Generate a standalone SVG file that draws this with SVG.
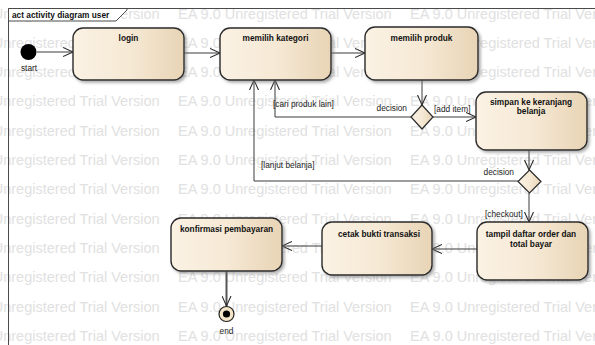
<svg xmlns="http://www.w3.org/2000/svg" width="595" height="345" viewBox="0 0 595 345">
<style>
.wm{font-family:"Liberation Sans",Arial,sans-serif;font-size:14.5px;fill:#e1e1e1}
.node{fill:url(#ng);stroke:#2b2b2b;stroke-width:1.4;filter:url(#sh)}
.lbl{font-family:"Liberation Sans",Arial,sans-serif;font-size:8.3px;font-weight:bold;fill:#111;text-anchor:middle}
.sm{font-family:"Liberation Sans",Arial,sans-serif;font-size:8.3px;fill:#222}
.con{fill:none;stroke:#3a3a3a;stroke-width:1;marker-end:url(#ah)}
.dia{fill:url(#ng);stroke:#2b2b2b;stroke-width:1.2}
</style>
<defs>
<linearGradient id="ng" x1="0" y1="0" x2="1" y2="0">
<stop offset="0" stop-color="#fbf2e4"/>
<stop offset="0.5" stop-color="#f6e9d5"/>
<stop offset="1" stop-color="#e8d4b5"/>
</linearGradient>
<filter id="sh" x="-10%" y="-10%" width="130%" height="140%">
<feDropShadow dx="2" dy="2" stdDeviation="1.4" flood-color="#777" flood-opacity="0.6"/>
</filter>
<marker id="ah" markerUnits="userSpaceOnUse" markerWidth="12" markerHeight="10" refX="10" refY="5" orient="auto">
<path d="M0,0.5 L10,5 L0,9.5" fill="none" stroke="#2b2b2b" stroke-width="1.1"/>
</marker>
</defs>
<rect width="595" height="345" fill="#ffffff"/>
<g id="watermark">
<text class="wm" y="18.5"><tspan x="-54">EA 9.0 Unregistered Trial Version</tspan><tspan x="178">EA 9.0 Unregistered Trial Version</tspan><tspan x="410">EA 9.0 Unregistered Trial Version</tspan></text>
<text class="wm" y="47.8"><tspan x="-54">EA 9.0 Unregistered Trial Version</tspan><tspan x="178">EA 9.0 Unregistered Trial Version</tspan><tspan x="410">EA 9.0 Unregistered Trial Version</tspan></text>
<text class="wm" y="77.1"><tspan x="-54">EA 9.0 Unregistered Trial Version</tspan><tspan x="178">EA 9.0 Unregistered Trial Version</tspan><tspan x="410">EA 9.0 Unregistered Trial Version</tspan></text>
<text class="wm" y="106.4"><tspan x="-54">EA 9.0 Unregistered Trial Version</tspan><tspan x="178">EA 9.0 Unregistered Trial Version</tspan><tspan x="410">EA 9.0 Unregistered Trial Version</tspan></text>
<text class="wm" y="135.7"><tspan x="-54">EA 9.0 Unregistered Trial Version</tspan><tspan x="178">EA 9.0 Unregistered Trial Version</tspan><tspan x="410">EA 9.0 Unregistered Trial Version</tspan></text>
<text class="wm" y="165"><tspan x="-54">EA 9.0 Unregistered Trial Version</tspan><tspan x="178">EA 9.0 Unregistered Trial Version</tspan><tspan x="410">EA 9.0 Unregistered Trial Version</tspan></text>
<text class="wm" y="194.3"><tspan x="-54">EA 9.0 Unregistered Trial Version</tspan><tspan x="178">EA 9.0 Unregistered Trial Version</tspan><tspan x="410">EA 9.0 Unregistered Trial Version</tspan></text>
<text class="wm" y="223.6"><tspan x="-54">EA 9.0 Unregistered Trial Version</tspan><tspan x="178">EA 9.0 Unregistered Trial Version</tspan><tspan x="410">EA 9.0 Unregistered Trial Version</tspan></text>
<text class="wm" y="252.9"><tspan x="-54">EA 9.0 Unregistered Trial Version</tspan><tspan x="178">EA 9.0 Unregistered Trial Version</tspan><tspan x="410">EA 9.0 Unregistered Trial Version</tspan></text>
<text class="wm" y="282.2"><tspan x="-54">EA 9.0 Unregistered Trial Version</tspan><tspan x="178">EA 9.0 Unregistered Trial Version</tspan><tspan x="410">EA 9.0 Unregistered Trial Version</tspan></text>
<text class="wm" y="311.5"><tspan x="-54">EA 9.0 Unregistered Trial Version</tspan><tspan x="178">EA 9.0 Unregistered Trial Version</tspan><tspan x="410">EA 9.0 Unregistered Trial Version</tspan></text>
<text class="wm" y="340.8"><tspan x="-54">EA 9.0 Unregistered Trial Version</tspan><tspan x="178">EA 9.0 Unregistered Trial Version</tspan><tspan x="410">EA 9.0 Unregistered Trial Version</tspan></text>
</g>
<g id="frame">
<path d="M8.5,350 L8.5,8.5 L600,8.5" fill="none" stroke="#4a4a4a" stroke-width="1"/>
<path d="M8.5,8.5 L127,8.5 L127,10 L116,21 L8.5,21 Z" fill="#ffffff" stroke="#4a4a4a" stroke-width="1"/>
<text x="12" y="18" style="font-family:'Liberation Sans',Arial,sans-serif;font-size:8.3px;font-weight:bold;fill:#111">act activity diagram user</text>
</g>
<g id="connectors">
<path class="con" d="M37,52 L73,52"/>
<path class="con" d="M184,53 L220,53"/>
<path class="con" d="M331,53 L365,53"/>
<path class="con" d="M422,80 L422,105"/>
<path class="con" d="M411,117 L275,117 L275,80"/>
<path class="con" d="M433,117 L476,117"/>
<path class="con" d="M529,150 L529,170"/>
<path class="con" d="M518,181 L254,181 L254,80"/>
<path class="con" d="M529,193 L529,222"/>
<path class="con" d="M477,249 L432,249"/>
<path class="con" d="M322,246 L282,246"/>
<path class="con" d="M226.5,271 L226.5,306" style="stroke:#555;stroke-width:2"/>
<text class="sm" x="407" y="111" text-anchor="end">decision</text>
<text class="sm" x="273" y="107">[cari produk lain]</text>
<text class="sm" x="434" y="112">[add item]</text>
<text class="sm" x="514" y="175" text-anchor="end">decision</text>
<text class="sm" x="261" y="168">[lanjut belanja]</text>
<text class="sm" x="485" y="217">[checkout]</text>
</g>
<g id="start">
<circle cx="28.5" cy="52" r="8" fill="#000"/>
<text class="sm" x="29" y="71" text-anchor="middle">start</text>
</g>
<g id="login">
<rect class="node" x="73" y="28" width="111" height="52" rx="10"/>
<text class="lbl" x="128.5" y="41">login</text>
</g>
<g id="memilih-kategori">
<rect class="node" x="220" y="28" width="111" height="52" rx="10"/>
<text class="lbl" x="275.5" y="41">memilih kategori</text>
</g>
<g id="memilih-produk">
<rect class="node" x="365" y="27" width="113" height="53" rx="10"/>
<text class="lbl" x="421.5" y="40.5">memilih produk</text>
</g>
<g id="decision1">
<polygon class="dia" points="422,105 433,117 422,129 411,117"/>
</g>
<g id="simpan">
<rect class="node" x="476" y="92" width="111" height="58" rx="10"/>
<text class="lbl" x="531" y="104.5">simpan ke keranjang</text>
<text class="lbl" x="531" y="114">belanja</text>
</g>
<g id="decision2">
<polygon class="dia" points="529.5,170 541,181.5 529.5,193 518,181.5"/>
</g>
<g id="tampil">
<rect class="node" x="477" y="222" width="111" height="58" rx="10"/>
<text class="lbl" x="531" y="237">tampil daftar order dan</text>
<text class="lbl" x="531" y="247">total bayar</text>
</g>
<g id="cetak">
<rect class="node" x="322" y="222" width="110" height="53" rx="10"/>
<text class="lbl" x="379" y="237">cetak bukti transaksi</text>
</g>
<g id="konfirmasi">
<rect class="node" x="171" y="218" width="111" height="53" rx="10"/>
<text class="lbl" x="226.5" y="232">konfirmasi pembayaran</text>
</g>
<g id="end">
<circle cx="226.5" cy="314" r="7.5" fill="#f4e4c8" stroke="#222" stroke-width="1.2"/>
<circle cx="226.5" cy="314" r="3.6" fill="#000"/>
<text class="sm" x="226.5" y="334" text-anchor="middle">end</text>
</g>
</svg>
